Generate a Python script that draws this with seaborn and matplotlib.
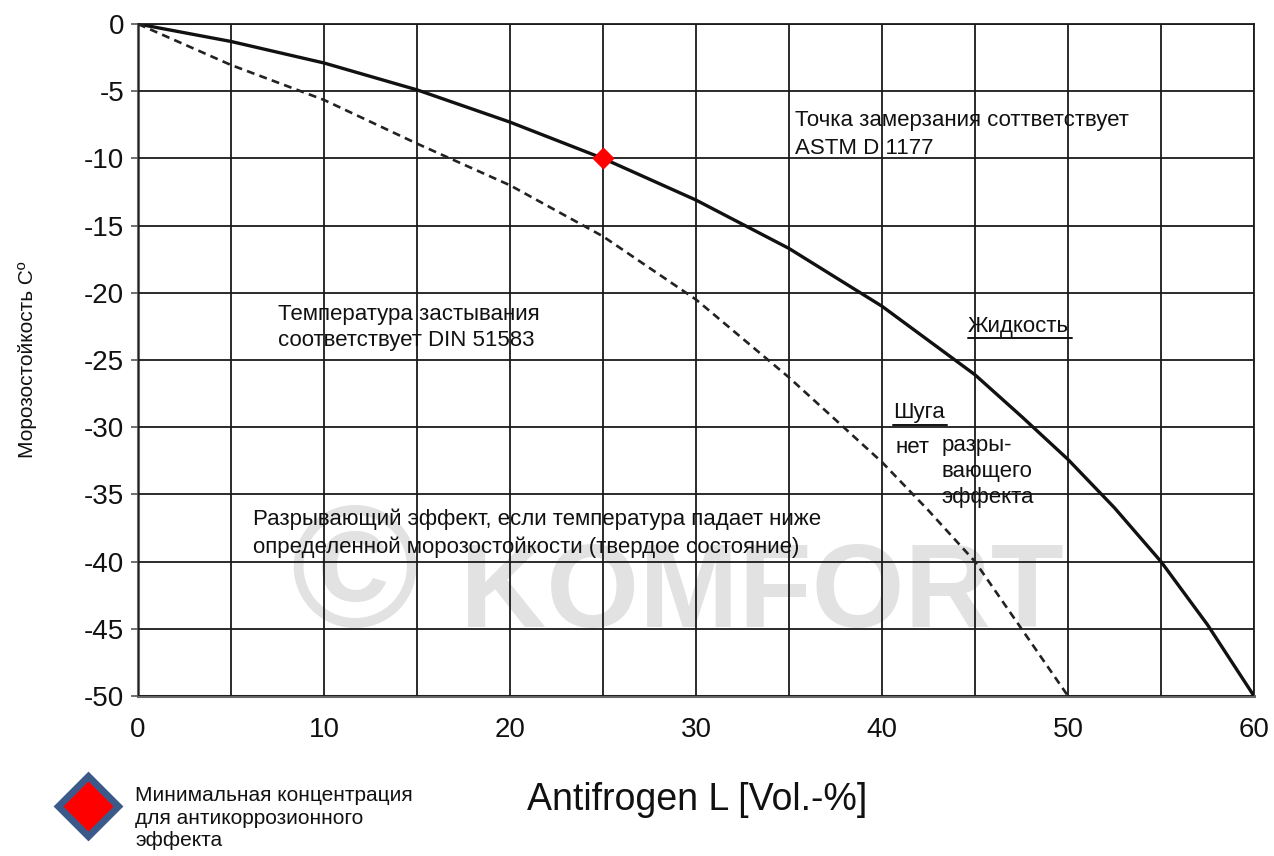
import matplotlib
matplotlib.use("Agg")
import matplotlib.pyplot as plt
import seaborn as sns
import pandas as pd

# ---- data ----
solid_x = [0, 5, 10, 15, 20, 25, 30, 35, 40, 45, 47.5, 50, 52.5, 55, 57.5, 60]
solid_y = [0, -1.3, -2.9, -4.9, -7.3, -10.0, -13.1, -16.7, -21.0, -26.1, -29.2, -32.4, -36.0, -40.0, -44.7, -50.0]
dashed_x = [0, 5, 10, 15, 20, 25, 30, 35, 40, 42.5, 45, 47.5, 50]
dashed_y = [0, -3.05, -5.65, -8.9, -12.0, -15.8, -20.5, -26.3, -32.6, -36.2, -40.0, -45.0, -50.0]
marker_x = [25]
marker_y = [-10]
x_ticks = [0, 10, 20, 30, 40, 50, 60]
y_ticks = [0, -5, -10, -15, -20, -25, -30, -35, -40, -45, -50]

sns.set_style("white")
plt.rcParams['font.family'] = ['Liberation Sans', 'DejaVu Sans']

fig = plt.figure(figsize=(12.74, 8.56), dpi=100)
ax = fig.add_axes([138/1274, 1-696/856, (1254-138)/1274, (696-24)/856])

# watermark
wm = dict(color='#e2e2e2', zorder=0)
ax.text(11.6, -41.5, "©", fontsize=125, fontweight='bold', ha='center', va='center', **wm)
ax.text(17.3, -44.9, "KOMFORT", fontsize=86, fontweight='bold', ha='left', va='baseline', **wm)

df_s = pd.DataFrame({"x": solid_x, "y": solid_y})
df_d = pd.DataFrame({"x": dashed_x, "y": dashed_y})
sns.lineplot(data=df_s, x="x", y="y", ax=ax, color='#111111', linewidth=2.4, zorder=4, sort=False)
sns.lineplot(data=df_d, x="x", y="y", ax=ax, color='#222222', linewidth=1.9, zorder=4,
             sort=False, linestyle=(0, (3, 2)))
sns.scatterplot(x=marker_x, y=marker_y, ax=ax, marker='D', s=110, color='#ff0000',
                edgecolor='#ff0000', zorder=5)

ax.set_xlim(0, 60)
ax.set_ylim(-50, 0)
ax.set_xticks(range(0, 61, 5), minor=True)
ax.set_xticks(x_ticks)
ax.set_yticks(y_ticks)
ax.set_xticklabels([str(t) for t in x_ticks])
ax.set_yticklabels([str(t) for t in y_ticks])
ax.grid(True, which='both', color='#1a1a1a', linewidth=1.3, zorder=1)
ax.set_axisbelow(False)
for s in ax.spines.values():
    s.set_color('#1a1a1a')
    s.set_linewidth(1.3)
ax.spines['left'].set_color('#666666')
ax.spines['left'].set_linewidth(2.2)
ax.spines['bottom'].set_color('#666666')
ax.spines['bottom'].set_linewidth(2.2)
ax.tick_params(axis='y', which='both', length=5, width=1.2, color='#555555', labelsize=20,
               pad=5, labelcolor='#111111', left=True)
ax.tick_params(axis='x', which='both', length=0, labelsize=20, pad=15, labelcolor='#111111')
ax.set_xlabel("")
ax.set_ylabel("Морозостойкость Cº", fontsize=15, labelpad=34, color='#111111')

fs = 16
txt = dict(fontsize=fs, color='#111111', zorder=6)
ax.text(35.3, -8.2, "Точка замерзания соттветствует\nASTM D 1177", ha='left', va='center',
        linespacing=1.45, **txt)
ax.text(7.5, -22.6, "Температура застывания\nсоответствует DIN 51583", ha='left', va='center',
        linespacing=1.3, **txt)
ax.text(44.6, -22.5, "Жидкость", ha='left', va='center', **txt)
ax.plot([44.6, 50.2], [-23.4, -23.4], color='#111111', lw=1.4, zorder=6)
ax.text(40.6, -28.9, "Шуга", ha='left', va='center', **txt)
ax.plot([40.6, 43.5], [-29.85, -29.85], color='#111111', lw=1.4, zorder=6)
ax.text(40.7, -31.5, "нет", ha='left', va='center', **txt)
ax.text(43.2, -33.3, "разры-\nвающего\nэффекта", ha='left', va='center', linespacing=1.3, **txt)
ax.text(6.2, -37.9, "Разрывающий эффект, если температура падает ниже\nопределенной морозостойкости (твердое состояние)",
        ha='left', va='center', linespacing=1.35, **txt)

# x label
fig.text(0.547, 1-800/856, "Antifrogen L [Vol.-%]", fontsize=27, ha='center', va='center', color='#111111')

# legend
fig.lines.append(plt.Line2D([88/1274], [1-806/856], transform=fig.transFigure, marker='D',
                            markersize=31, markerfacecolor='#ff0000', markeredgecolor='#3b5a8a',
                            markeredgewidth=5, linestyle='none'))
fig.text(135/1274, 1-818/856, "Минимальная концентрация\nдля антикоррозионного\nэффекта",
         fontsize=15, ha='left', va='center', linespacing=1.25, color='#111111')

fig.savefig("out.png", dpi=100, facecolor='white')
